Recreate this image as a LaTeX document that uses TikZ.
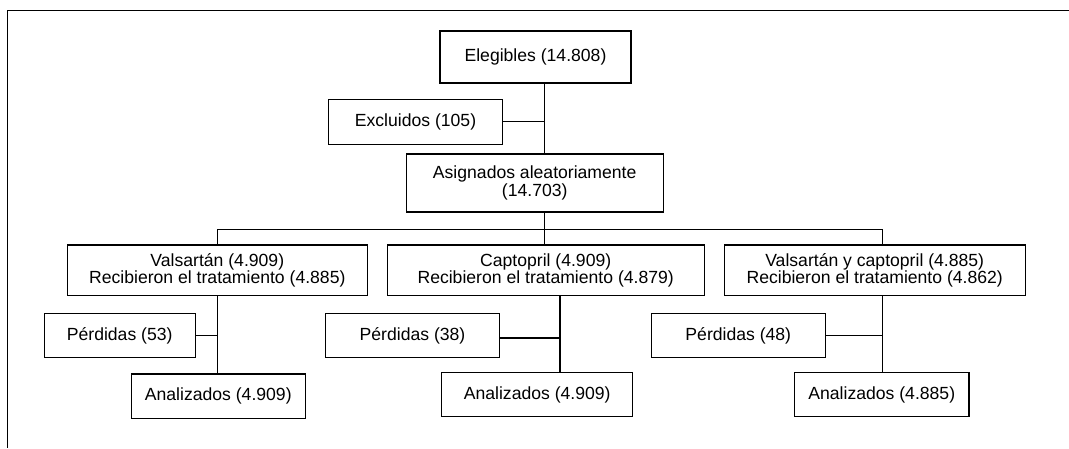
\documentclass[tikz,border=0pt]{standalone}
\usepackage{fontspec}
\setmainfont{Liberation Sans}
\usepackage{tikz}

\begin{document}
\begin{tikzpicture}[x=1pt, y=-1pt,
        caja/.style={draw, line width=1.1pt, inner sep=0pt, align=center,
            font=\fontsize{17.6}{16}\selectfont},
        linea/.style={line width=1.1pt}]
            \useasboundingbox (0,0) rectangle (1069,448);
            \draw [linea] (1069,10.5) -- (7.5,10.5) -- (7.5,448);
            % arriba
            \node [caja, minimum width=191pt, minimum height=52pt] (eleg) at (535.5,57) {Elegibles (14.808)};
            \node [caja, minimum width=174.7pt, minimum height=45pt] (excl) at (415.5,121.8) {Excluidos (105)};
            \node [caja, minimum width=257.3pt, minimum height=58pt] (asig) at (534.7,183) {Asignados aleatoriamente\\(14.703)};
            % grupos
            \node [caja, minimum width=300pt, minimum height=50.7pt] (valsa) at (217.3,270.3) {Valsartán (4.909)\\Recibieron el tratamiento (4.885)};
            \node [caja, minimum width=316.7pt, minimum height=50.7pt] (capto) at (545.7,270.3) {Captopril (4.909)\\Recibieron el tratamiento (4.879)};
            \node [caja, minimum width=300.7pt, minimum height=50.7pt] (ambos) at (874.7,270.3) {Valsartán y captopril (4.885)\\Recibieron el tratamiento (4.862)};
            % perdidas y analizados
            \node [caja, minimum width=151.3pt, minimum height=44.4pt] (perd1) at (119.7,335.5) {Pérdidas (53)};
            \node [caja, minimum width=173.6pt, minimum height=44pt] (perd2) at (412.5,335.7) {Pérdidas (38)};
            \node [caja, minimum width=174pt, minimum height=44pt] (perd3) at (738.3,335.7) {Pérdidas (48)};
            \node [caja, minimum width=174pt, minimum height=44.7pt] (anal1) at (218.3,396.3) {Analizados (4.909)};
            \node [caja, minimum width=191pt, minimum height=44.4pt] (anal2) at (537.2,394.5) {Analizados (4.909)};
            \node [caja, minimum width=174.3pt, minimum height=44.4pt] (anal3) at (881.8,394.5) {Analizados (4.885)};
            % puntos de union
            \coordinate (j1) at (217.3,229.3);
            \coordinate (j2) at (544.7,229.3);
            \coordinate (j3) at (882.3,229.3);
            \coordinate (k2) at (560,338);
            \draw [linea] (eleg.south -| j2) -- (asig.north -| j2);
            \draw [linea] (excl.east) -- (excl.east -| j2);
            \draw [linea] (asig.south -| j2) -- (j2);
            \draw [linea] (j1) -- (j3);
            \draw [linea] (j1) -- (valsa.north -| j1);
            \draw [linea] (j2) -- (capto.north -| j2);
            \draw [linea] (j3) -- (ambos.north -| j3);
            \draw [linea] (valsa.south -| j1) -- (anal1.north -| j1);
            \draw [linea] (perd1.east) -- (perd1.east -| j1);
            \draw [linea] (capto.south -| k2) -- (anal2.north -| k2);
            \draw [linea] (perd2.east |- k2) -- (k2);
            \draw [linea] (ambos.south -| j3) -- (anal3.north -| j3);
            \draw [linea] (perd3.east) -- (perd3.east -| j3);
        \end{tikzpicture}
\end{document}
